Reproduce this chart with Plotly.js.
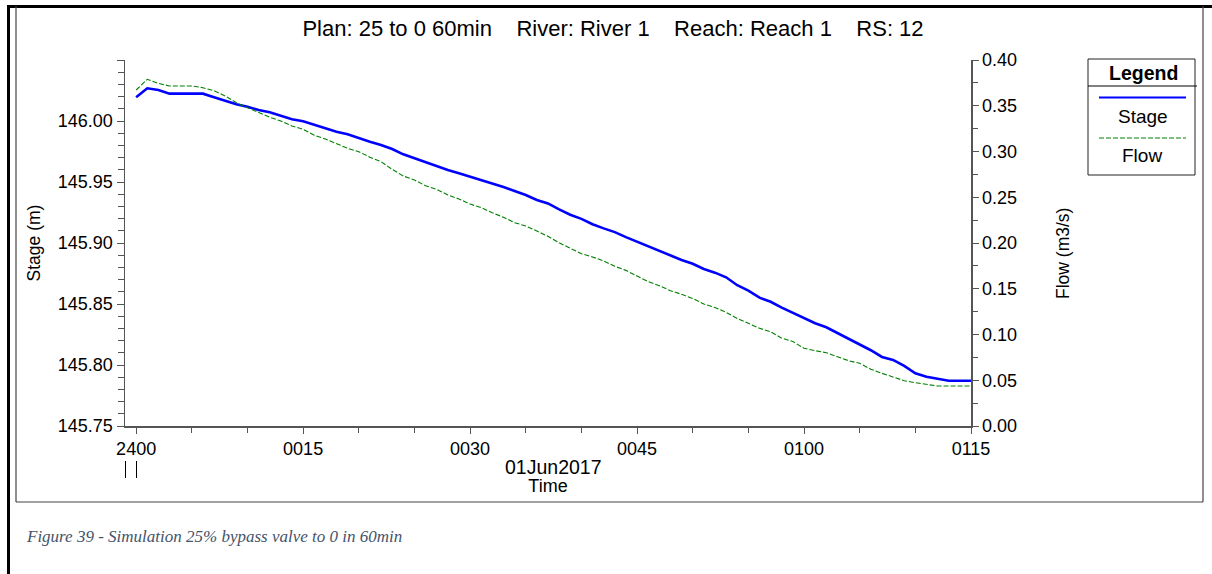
<!DOCTYPE html>
<html>
<head>
<meta charset="utf-8">
<script src="https://cdn.plot.ly/plotly-3.0.1.min.js"></script>
<style>
  html, body { margin: 0; padding: 0; background: #ffffff; }
  #chart { width: 1212px; height: 574px; }
</style>
</head>
<body>
<div id="chart"></div>
<script>
// ---- data (minutes after 2400 on 31May/01Jun2017) ----
const minutes = [0,1,2,3,4,5,6,7,8,9,10,11,12,13,14,15,16,17,18,19,20,21,22,23,24,25,26,27,28,29,30,31,32,33,34,35,36,37,38,39,40,41,42,43,44,45,46,47,48,49,50,51,52,53,54,55,56,57,58,59,60,61,62,63,64,65,66,67,68,69,70,71,72,73,74,75];
const stage = [146.0194,146.0268,146.0254,146.0224,146.0224,146.0224,146.0224,146.0194,146.0164,146.0137,
               146.0117,146.0090,146.0071,146.0041,146.0014,145.9998,145.9970,145.9940,145.9912,145.9891,
               145.9858,145.9830,145.9803,145.9770,145.9727,145.9694,145.9661,145.9631,145.9598,145.9571,
               145.9543,145.9516,145.9489,145.9459,145.9426,145.9393,145.9352,145.9324,145.9275,145.9232,
               145.9198,145.9154,145.9120,145.9089,145.9048,145.9011,145.8971,145.8939,145.8896,145.8861,
               145.8830,145.8787,145.8757,145.8719,145.8654,145.8609,145.8552,145.8518,145.8470,145.8426,
               145.8381,145.8342,145.8309,145.8263,145.8213,145.8165,145.8121,145.8066,145.8042,145.7992,
               145.7932,145.7903,145.7889,145.7871,145.7871,145.7871];
const flow = [0.3672,0.3789,0.3745,0.3716,0.3716,0.3716,0.3697,0.3664,0.3607,0.3533,
              0.3479,0.3424,0.3374,0.3333,0.3279,0.3243,0.3177,0.3137,0.3090,0.3035,
              0.2998,0.2937,0.2889,0.2805,0.2732,0.2689,0.2626,0.2587,0.2525,0.2481,
              0.2426,0.2386,0.2331,0.2281,0.2222,0.2186,0.2131,0.2073,0.2002,0.1943,
              0.1883,0.1848,0.1803,0.1745,0.1701,0.1639,0.1578,0.1534,0.1479,0.1439,
              0.1393,0.1334,0.1294,0.1242,0.1176,0.1122,0.1068,0.1030,0.0960,0.0923,
              0.0849,0.0823,0.0801,0.0757,0.0714,0.0685,0.0620,0.0576,0.0539,0.0495,
              0.0473,0.0459,0.0437,0.0437,0.0437,0.0437];
const xTickVals = [0,15,30,45,60,75];
const xTickText = ['2400','0015','0030','0045','0100','0115'];
const stageTickVals = [145.75,145.80,145.85,145.90,145.95,146.00,146.05];
const stageTickText = ['145.75','145.80','145.85','145.90','145.95','146.00',''];
const flowTickVals = [0,0.05,0.10,0.15,0.20,0.25,0.30,0.35,0.40];
const flowTickText = ['0.00','0.05','0.10','0.15','0.20','0.25','0.30','0.35','0.40'];
const seriesNames = ['Stage','Flow'];
const titleText = 'Plan: 25 to 0 60min&nbsp;&nbsp;&nbsp;&nbsp;River: River 1&nbsp;&nbsp;&nbsp;&nbsp;Reach: Reach 1&nbsp;&nbsp;&nbsp;&nbsp;RS: 12';
const captionText = 'Figure 39 - Simulation 25% bypass valve to 0 in 60min';

// ---- layout geometry ----
const W = 1212, H = 574;
const L = 125, R = 971, T = 60, B = 426;
const px = x => (x - L) / (R - L);
const py = y => (B - y) / (B - T);
const FONT = 'Liberation Sans, Arial, sans-serif';
const AX = '#555555';
const BLUE = '#0000ff', GREEN = '#008000';

const traces = [
  { x: minutes, y: stage, name: seriesNames[0], type: 'scatter', mode: 'lines',
    line: { color: BLUE, width: 2.6 }, yaxis: 'y' },
  { x: minutes, y: flow, name: seriesNames[1], type: 'scatter', mode: 'lines',
    line: { color: GREEN, width: 1.1, dash: '5px,2px' }, yaxis: 'y2' }
];

const layout = {
  width: W, height: H,
  margin: { l: L, r: W - R, t: T, b: H - B, pad: 0 },
  paper_bgcolor: '#ffffff', plot_bgcolor: '#ffffff',
  showlegend: false,
  font: { family: FONT, color: '#000000', size: 18 },
  title: { text: titleText, x: 613 / W, xanchor: 'center', y: 1 - 28 / H, yanchor: 'middle',
           font: { family: FONT, size: 22, color: '#000000' } },
  xaxis: {
    range: [-1, 75], tickmode: 'array', tickvals: xTickVals, ticktext: xTickText,
    ticks: 'outside', ticklen: 6, tickwidth: 1, tickcolor: AX,
    showline: true, linecolor: AX, linewidth: 1.5, showgrid: false, zeroline: false,
    tickfont: { family: FONT, size: 18, color: '#000' },
    minor: { tickmode: 'array', tickvals: [5,10,20,25,35,40,50,55,65,70], ticks: 'outside', ticklen: 5, tickcolor: AX, tickwidth: 1 },
    title: { text: 'Time', font: { family: FONT, size: 18 }, standoff: 21 }
  },
  yaxis: {
    range: [145.75, 146.05], tickmode: 'array', tickvals: stageTickVals, ticktext: stageTickText,
    ticks: 'outside', ticklen: 7, tickwidth: 1, tickcolor: AX,
    showline: true, linecolor: AX, linewidth: 1.5, showgrid: false, zeroline: false,
    tickfont: { family: FONT, size: 18, color: '#000' },
    minor: { tickmode: 'linear', tick0: 145.75, dtick: 0.01, ticks: 'outside', ticklen: 6, tickcolor: AX, tickwidth: 1 },
    title: { text: 'Stage (m)', font: { family: FONT, size: 17.5 }, standoff: 12 }
  },
  yaxis2: {
    range: [0, 0.40], overlaying: 'y', side: 'right', tickmode: 'array', tickvals: flowTickVals, ticktext: flowTickText,
    ticks: 'outside', ticklen: 6, tickwidth: 1, tickcolor: AX,
    showline: true, linecolor: AX, linewidth: 1.5, showgrid: false, zeroline: false,
    tickfont: { family: FONT, size: 18, color: '#000' },
    minor: { tickmode: 'linear', tick0: 0.025, dtick: 0.05, ticks: 'outside', ticklen: 5, tickcolor: AX, tickwidth: 1 }
  },
  shapes: [
    // document border (thick) and chart frame
    { type: 'line', xref: 'paper', yref: 'paper', x0: px(8.5), x1: px(8.5), y0: py(5), y1: py(576), line: { color: '#000', width: 3 } },
    { type: 'line', xref: 'paper', yref: 'paper', x0: px(7), x1: px(1212), y0: py(6.5), y1: py(6.5), line: { color: '#000', width: 3 } },
    { type: 'line', xref: 'paper', yref: 'paper', x0: px(16), x1: px(16), y0: py(6), y1: py(502), line: { color: '#444', width: 1.2 } },
    { type: 'line', xref: 'paper', yref: 'paper', x0: px(16), x1: px(1203), y0: py(502), y1: py(502), line: { color: '#444', width: 1.2 } },
    { type: 'line', xref: 'paper', yref: 'paper', x0: px(1203), x1: px(1203), y0: py(6), y1: py(502), line: { color: '#444', width: 1.2 } },
    // day-boundary marks
    { type: 'line', xref: 'paper', yref: 'paper', x0: px(125.5), x1: px(125.5), y0: py(461), y1: py(478), line: { color: '#000', width: 1 } },
    { type: 'line', xref: 'paper', yref: 'paper', x0: px(136.5), x1: px(136.5), y0: py(461), y1: py(478), line: { color: '#000', width: 1 } },
    // legend box
    { type: 'rect', xref: 'paper', yref: 'paper', x0: px(1088), x1: px(1195), y0: py(59), y1: py(175), line: { color: '#222', width: 1 }, fillcolor: 'rgba(0,0,0,0)' },
    { type: 'line', xref: 'paper', yref: 'paper', x0: px(1088), x1: px(1197), y0: py(86), y1: py(86), line: { color: '#000', width: 1 } },
    { type: 'line', xref: 'paper', yref: 'paper', x0: px(1099), x1: px(1186), y0: py(97.5), y1: py(97.5), line: { color: BLUE, width: 2 } },
    { type: 'line', xref: 'paper', yref: 'paper', x0: px(1099), x1: px(1186), y0: py(138), y1: py(138), line: { color: GREEN, width: 1, dash: '5px,2px' } }
  ],
  annotations: [
    { text: 'Flow (m3/s)', xref: 'paper', yref: 'paper', x: px(1063), y: py(254), textangle: -90, xanchor: 'center', yanchor: 'middle', showarrow: false,
      font: { family: FONT, size: 17.5, color: '#000' } },
    { text: '01Jun2017', xref: 'paper', yref: 'paper', x: px(553), y: py(467), xanchor: 'center', yanchor: 'middle', showarrow: false,
      font: { family: FONT, size: 19.5, color: '#000' } },
    { text: '<b>Legend</b>', xref: 'paper', yref: 'paper', x: px(1143), y: py(72.5), xanchor: 'center', yanchor: 'middle', showarrow: false,
      font: { family: FONT, size: 19.5, color: '#000' } },
    { text: seriesNames[0], xref: 'paper', yref: 'paper', x: px(1143), y: py(117), xanchor: 'center', yanchor: 'middle', showarrow: false,
      font: { family: FONT, size: 19, color: '#000' } },
    { text: seriesNames[1], xref: 'paper', yref: 'paper', x: px(1142), y: py(155.5), xanchor: 'center', yanchor: 'middle', showarrow: false,
      font: { family: FONT, size: 19, color: '#000' } },
    { text: '<i>' + captionText + '</i>', xref: 'paper', yref: 'paper', x: px(24), y: py(536), xanchor: 'left', yanchor: 'middle', showarrow: false,
      font: { family: 'Liberation Serif, Times New Roman, serif', size: 17, color: '#44546a' } }
  ]
};

Plotly.newPlot('chart', traces, layout, { displayModeBar: false, staticPlot: true });
</script>
</body>
</html>
